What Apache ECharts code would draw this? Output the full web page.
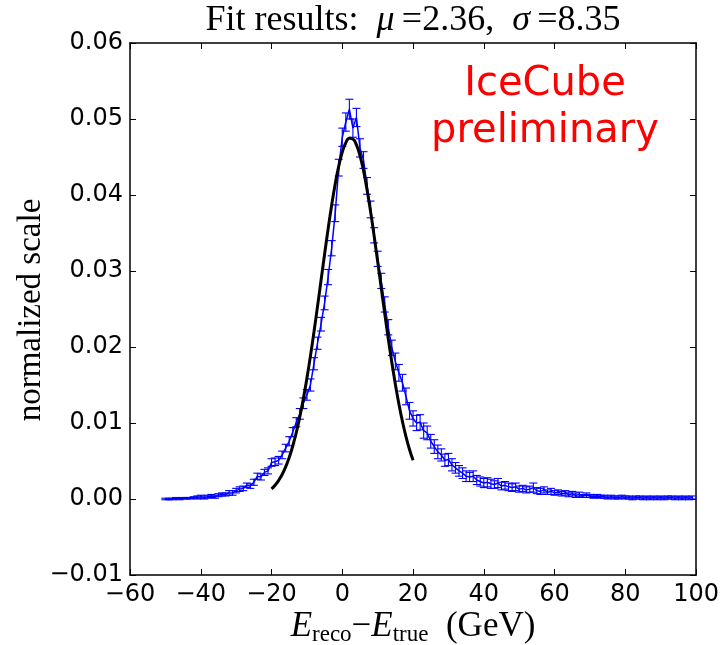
<!DOCTYPE html>
<html><head><meta charset="utf-8">
<script src="https://cdn.jsdelivr.net/npm/echarts@6/dist/echarts.min.js"></script>
<style>html,body{margin:0;padding:0;background:#fff}#c{width:722px;height:645px}</style>
</head><body><div id="c"></div>
<script>
// Bin centres (GeV) of E_reco - E_true histogram
const binCenters = [
-50,-49,-48,-47,-46,-45,-44,-43,-42,-41,-40,-39,-38,-37,-36,-35,-34,-33,-32,-31,
-30,-29,-28,-27,-26,-25,-24,-23,-22,-21,-20,-19,-18,-17,-16,-15,-14,-13,-12,-11,
-10,-9,-8,-7,-6,-5,-4,-3,-2,-1,0,1,2,3,4,5,6,7,8,9,
10,11,12,13,14,15,16,17,18,19,20,21,22,23,24,25,26,27,28,29,
30,31,32,33,34,35,36,37,38,39,40,41,42,43,44,45,46,47,48,49,
50,51,52,53,54,55,56,57,58,59,60,61,62,63,64,65,66,67,68,69,
70,71,72,73,74,75,76,77,78,79,80,81,82,83,84,85,86,87,88,89,
90,91,92,93,94,95,96,97,98,99];
// Normalized counts
const counts = [
0.0000,0.0000,0.0000,0.0001,0.0000,0.0001,0.0001,0.0001,0.0002,0.0002,
0.0003,0.0002,0.0003,0.0004,0.0003,0.0005,0.0006,0.0006,0.0008,0.0008,
0.0011,0.0013,0.0014,0.0018,0.0017,0.0022,0.0030,0.0029,0.0035,0.0037,
0.0048,0.0049,0.0051,0.0058,0.0067,0.0076,0.0088,0.0101,0.0112,0.0126,
0.0137,0.0150,0.0178,0.0205,0.0230,0.0258,0.0292,0.0330,0.0376,0.0436,
0.0476,0.0496,0.0513,0.0488,0.0502,0.0462,0.0446,0.0412,0.0381,0.0347,
0.0316,0.0287,0.0256,0.0226,0.0199,0.0181,0.0166,0.0153,0.0135,0.0116,
0.0106,0.0100,0.0101,0.0090,0.0087,0.0076,0.0069,0.0062,0.0058,0.0051,
0.0052,0.0045,0.0041,0.0037,0.0034,0.0030,0.0029,0.0030,0.0025,0.0023,
0.0021,0.0022,0.0020,0.0019,0.0021,0.0017,0.0018,0.0016,0.0015,0.0016,
0.0013,0.0014,0.0012,0.0013,0.0015,0.0011,0.0010,0.0012,0.0009,0.0010,
0.0008,0.0009,0.0007,0.0008,0.0006,0.0007,0.0005,0.0006,0.0004,0.0005,
0.0004,0.0003,0.0004,0.0003,0.0003,0.0002,0.0003,0.0002,0.0002,0.0003,
0.0002,0.0002,0.0001,0.0002,0.0002,0.0001,0.0002,0.0001,0.0002,0.0001,
0.0002,0.0001,0.0002,0.0002,0.0001,0.0002,0.0001,0.0002,0.0001,0.0002];
// Error bar half-lengths
const errors = [
0.0001,0.0001,0.0001,0.0001,0.0001,0.0001,0.0001,0.0001,0.0001,0.0002,
0.0002,0.0002,0.0002,0.0002,0.0002,0.0002,0.0002,0.0002,0.0003,0.0003,
0.0003,0.0003,0.0003,0.0003,0.0003,0.0004,0.0004,0.0004,0.0004,0.0004,
0.0005,0.0005,0.0005,0.0005,0.0005,0.0006,0.0006,0.0006,0.0007,0.0007,
0.0007,0.0008,0.0008,0.0008,0.0009,0.0009,0.0010,0.0010,0.0011,0.0011,
0.0012,0.0012,0.0013,0.0012,0.0012,0.0012,0.0011,0.0011,0.0011,0.0010,
0.0010,0.0010,0.0010,0.0010,0.0010,0.0011,0.0011,0.0011,0.0011,0.0011,
0.0010,0.0010,0.0010,0.0010,0.0009,0.0009,0.0009,0.0009,0.0008,0.0008,
0.0008,0.0008,0.0007,0.0007,0.0007,0.0007,0.0006,0.0007,0.0006,0.0006,
0.0006,0.0006,0.0006,0.0005,0.0006,0.0005,0.0005,0.0005,0.0005,0.0005,
0.0004,0.0004,0.0004,0.0004,0.0006,0.0004,0.0004,0.0004,0.0003,0.0004,
0.0003,0.0003,0.0003,0.0003,0.0003,0.0003,0.0003,0.0003,0.0002,0.0003,
0.0002,0.0002,0.0002,0.0002,0.0002,0.0002,0.0002,0.0002,0.0002,0.0002,
0.0002,0.0002,0.0002,0.0002,0.0002,0.0002,0.0002,0.0002,0.0002,0.0002,
0.0002,0.0002,0.0002,0.0002,0.0002,0.0002,0.0002,0.0002,0.0002,0.0002];
// Gaussian fit curve (mu = 2.36, sigma = 8.35)
const fitX = [-20,-19,-18,-17,-16,-15,-14,-13,-12,-11,-10,-9,-8,-7,-6,-5,-4,-3,-2,-1,
0,1,2,3,4,5,6,7,8,9,10,11,12,13,14,15,16,17,18,19,20];
const fitY = [0.00132,0.00180,0.00243,0.00323,0.00423,0.00547,0.00697,0.00875,0.01083,0.01321,
0.01588,0.01883,0.02200,0.02534,0.02878,0.03221,0.03554,0.03866,0.04145,0.04381,
0.04564,0.04687,0.04746,0.04736,0.04659,0.04518,0.04320,0.04070,0.03781,0.03462,
0.03125,0.02781,0.02440,0.02109,0.01798,0.01511,0.01251,0.01021,0.00822,0.00652,0.00510];
const xTicks = {min:-60, max:100, interval:20};
const yTicks = {min:-0.01, max:0.06, interval:0.01};

const chart = echarts.init(document.getElementById('c'), null, {renderer:'canvas'});
const BLUE = '#0000ff';
const labFont = 'DejaVu Sans';
const serif = 'Liberation Serif';
const minus = s => String(s).replace('-', '\u2212');

function mkX(pos, show){
  return {type:'value', position:pos, min:xTicks.min, max:xTicks.max, interval:xTicks.interval,
    axisLine:{show:true, onZero:false, lineStyle:{color:'#000', width:1.5}},
    axisTick:{show:true, inside:true, length:6, lineStyle:{color:'#000', width:1}},
    axisLabel:{show:show, color:'#000', fontFamily:labFont, fontSize:24, margin:8,
      showMinLabel:true, showMaxLabel:true, formatter:v=>minus(v)},
    splitLine:{show:false}};
}
function mkY(pos, show){
  return {type:'value', position:pos, min:yTicks.min, max:yTicks.max, interval:yTicks.interval,
    axisLine:{show:true, onZero:false, lineStyle:{color:'#000', width:1.5}},
    axisTick:{show:true, inside:true, length:6, lineStyle:{color:'#000', width:1}},
    axisLabel:{show:show, color:'#000', fontFamily:labFont, fontSize:24, margin:7,
      showMinLabel:true, showMaxLabel:true,
      formatter:v=>(v < -1e-9 ? '\u2212' : '') + Math.abs(v).toFixed(2)},
    splitLine:{show:false}};
}

const histData = binCenters.map((x,i)=>[x, counts[i]]);
const errData = binCenters.map((x,i)=>[x, counts[i], errors[i]]);
const fitData = fitX.map((x,i)=>[x, fitY[i]]);

chart.setOption({
  animation:false,
  backgroundColor:'#fff',
  grid:{left:130, right:24, top:43, bottom:70, containLabel:false},
  xAxis:[mkX('bottom', true), mkX('top', false)],
  yAxis:[mkY('left', true), mkY('right', false)],
  graphic:[
    {type:'text', x:413, y:21, style:{
      text:'{r|Fit results:\u2002}{i|\u03bc}{r|\u2009=2.36,\u2002}{i|\u03c3}{r|\u2009=8.35}',
      align:'center', verticalAlign:'middle',
      rich:{r:{fontFamily:serif, fontSize:36, fill:'#000'},
            i:{fontFamily:serif, fontSize:36, fontStyle:'italic', fill:'#000'}}}},
    {type:'text', x:413, y:627, style:{
      text:'{e|E}{s|reco}{m|\u2212}{e|E}{s|true}{r|\u2002(GeV)}',
      align:'center', verticalAlign:'middle',
      rich:{e:{fontFamily:serif, fontSize:35, fontStyle:'italic', fill:'#000', lineHeight:38},
            s:{fontFamily:serif, fontSize:23, fill:'#000', verticalAlign:'bottom', lineHeight:20},
            m:{fontFamily:serif, fontSize:35, fill:'#000', lineHeight:38},
            r:{fontFamily:serif, fontSize:35, fill:'#000', lineHeight:38}}}},
    {type:'text', x:31, y:310, rotation:Math.PI/2, style:{
      text:'normalized scale', align:'center', verticalAlign:'middle',
      fontFamily:serif, fontSize:33, fill:'#000'}},
    {type:'text', x:545, y:108, style:{
      text:'IceCube\npreliminary', align:'center', verticalAlign:'middle',
      fontFamily:'DejaVu Sans', fontSize:40, lineHeight:47, fill:'#ff0000'}}
  ],
  series:[
    {type:'line', data:histData, xAxisIndex:0, yAxisIndex:0, showSymbol:false, symbol:'none',
      lineStyle:{color:BLUE, width:1.5}, z:2},
    {type:'custom', data:errData, xAxisIndex:0, yAxisIndex:0, z:3,
      renderItem:function(params, api){
        const x = api.value(0), y = api.value(1), e = api.value(2);
        const t = api.coord([x, y+e]), b = api.coord([x, y-e]);
        const hw = 4;
        const st = {stroke:BLUE, lineWidth:1.1};
        return {type:'group', children:[
          {type:'line', shape:{x1:t[0], y1:t[1], x2:b[0], y2:b[1]}, style:st},
          {type:'line', shape:{x1:t[0]-hw, y1:t[1], x2:t[0]+hw, y2:t[1]}, style:st},
          {type:'line', shape:{x1:b[0]-hw, y1:b[1], x2:b[0]+hw, y2:b[1]}, style:st}
        ]};
      }},
    {type:'line', data:fitData, xAxisIndex:0, yAxisIndex:0, smooth:true, showSymbol:false, symbol:'none',
      lineStyle:{color:'#000', width:3}, z:4}
  ]
});
</script></body></html>
